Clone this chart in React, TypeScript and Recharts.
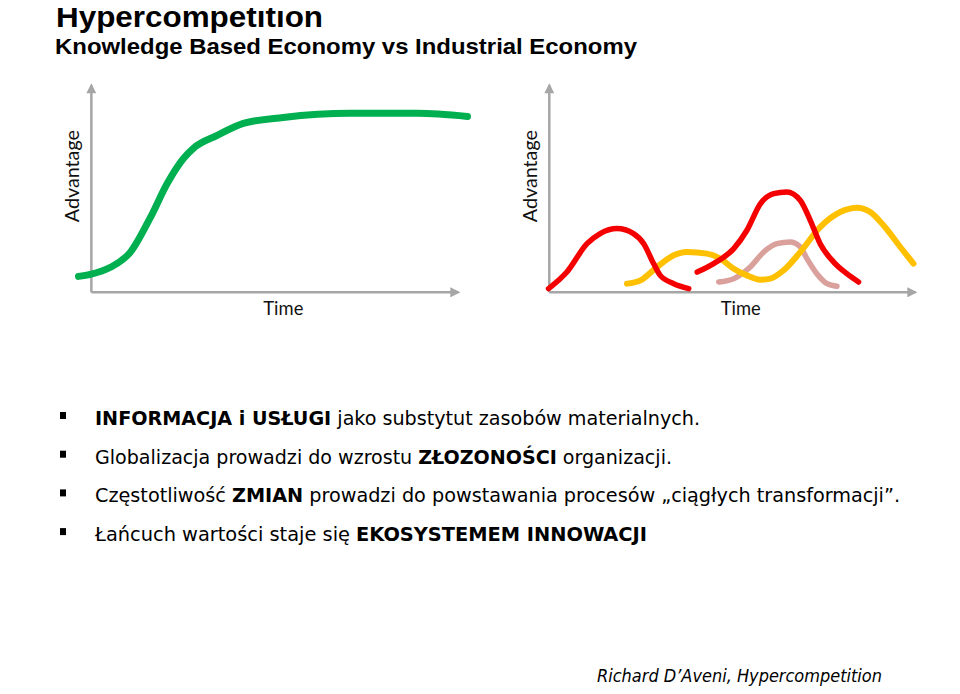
import { LineChart, Line, XAxis, YAxis, ReferenceLine } from 'recharts';

// Slide: Hypercompetition — one long S-curve of advantage (left) vs a run of
// short-lived advantage waves (right). Units: time 0..100 along the x arrow,
// advantage 0..100 up the y arrow.

const AXIS = '#a6a6a6';
const GREEN = '#00b050';
const RED = '#f40000';
const YELLOW = '#ffc000';
const PINK = '#d9a09c';

const X_DOMAIN: [number, number] = [-5, 105];
const Y_DOMAIN: [number, number] = [-5, 105];

// left panel — knowledge based economy
const sTime = [-3.5, -0.3, 5.2, 10.6, 16.1, 20.7, 25.1, 27.8, 34.3, 41.4, 52.3, 70.6, 88.8, 102.5];
const sAdvantage = [7.7, 8.7, 12.1, 19.3, 36.2, 52.7, 64.7, 69.6, 75.8, 81.6, 84.5, 86.5, 86.5, 85.0];

// right panel — industrial economy waves
const red1Time = [-0.2, 4.8, 10.3, 13.9, 18.5, 23.0, 25.8, 28.5, 30.3, 34.0, 38.1];
const red1Advantage = [1.8, 9.8, 23.5, 28.4, 30.8, 28.4, 23.5, 13.9, 8.2, 4.2, 1.8];

const yellowTime = [21.2, 24.9, 29.4, 34.0, 37.6, 43.1, 46.7, 50.4, 54.0, 57.7, 60.4, 64.0, 68.6, 74.0, 79.5, 84.1, 87.7, 91.3, 95.9, 99.5];
const yellowAdvantage = [4.2, 5.8, 12.2, 17.9, 19.5, 18.7, 16.3, 11.4, 8.2, 6.1, 6.6, 10.6, 19.5, 31.5, 38.8, 40.9, 38.8, 32.4, 21.9, 13.9];

const red2Time = [40.4, 44.9, 50.4, 54.0, 57.7, 61.3, 64.9, 68.6, 71.3, 74.0, 77.7, 81.3, 84.5];
const red2Advantage = [9.8, 13.9, 21.1, 30.0, 42.9, 47.7, 48.5, 44.4, 34.8, 23.5, 14.6, 9.0, 5.0];

const pinkTime = [46.3, 50.4, 54.9, 58.6, 62.2, 65.8, 68.6, 70.4, 73.1, 75.9, 78.6];
const pinkAdvantage = [5.0, 6.6, 12.2, 19.5, 23.5, 24.3, 21.9, 16.3, 9.0, 4.2, 2.9];

const BULLETS = [
  [{ text: 'INFORMACJA i USŁUGI', bold: true }, { text: ' jako substytut zasobów materialnych.' }],
  [{ text: 'Globalizacja prowadzi do wzrostu ' }, { text: 'ZŁOZONOŚCI', bold: true }, { text: ' organizacji.' }],
  [{ text: 'Częstotliwość ' }, { text: 'ZMIAN', bold: true }, { text: ' prowadzi do powstawania procesów „ciągłych transformacji”.' }],
  [{ text: 'Łańcuch wartości staje się ' }, { text: 'EKOSYSTEMEM INNOWACJI', bold: true }],
];
const BULLET_WIDTHS = [605, 577, 805, 552];

const zip = (t: number[], a: number[]) => t.map((v, i) => ({ t: v, a: a[i] }));

interface Series {
  name: string;
  color: string;
  width: number;
  data: { t: number; a: number }[];
}

const leftSeries: Series[] = [{ name: 's-curve', color: GREEN, width: 7, data: zip(sTime, sAdvantage) }];
const rightSeries: Series[] = [
  { name: 'pink', color: PINK, width: 5.5, data: zip(pinkTime, pinkAdvantage) },
  { name: 'yellow', color: YELLOW, width: 6, data: zip(yellowTime, yellowAdvantage) },
  { name: 'red1', color: RED, width: 5.5, data: zip(red1Time, red1Advantage) },
  { name: 'red2', color: RED, width: 5.5, data: zip(red2Time, red2Advantage) },
];

const LABEL_FONT = 'Lato, "Open Sans", sans-serif';
const PAD = 40;

function timeLabel(props: any) {
  const vb = props.viewBox;
  return (
    <text x={vb.x + vb.width / 2 + 8.5} y={vb.y + 15} textAnchor="middle" dominantBaseline="central"
      fontFamily={LABEL_FONT} fontSize={19} fill="#111" textLength={40} lengthAdjust="spacingAndGlyphs">
      Time
    </text>
  );
}

function advantageLabel(props: any) {
  const vb = props.viewBox;
  const x = vb.x - 19.5;
  const y = vb.y + vb.height / 2 - 12.7;
  return (
    <text x={x} y={y} transform={`rotate(-90 ${x} ${y})`} textAnchor="middle" dominantBaseline="central"
      fontFamily={LABEL_FONT} fontSize={19} fill="#111" textLength={92} lengthAdjust="spacingAndGlyphs">
      Advantage
    </text>
  );
}

function Panel({ id, originX, originY, xUnit, yUnit, series }: {
  id: string; originX: number; originY: number; xUnit: number; yUnit: number; series: Series[];
}) {
  const plotW = (X_DOMAIN[1] - X_DOMAIN[0]) * xUnit;
  const plotH = (Y_DOMAIN[1] - Y_DOMAIN[0]) * yUnit;
  const plotLeft = originX + X_DOMAIN[0] * xUnit;
  const plotTop = originY - Y_DOMAIN[1] * yUnit;
  const arrow = `url(#arrow-${id})`;
  return (
    <div style={{ position: 'absolute', left: plotLeft - PAD, top: plotTop - PAD }}>
      <LineChart width={plotW + 2 * PAD} height={plotH + 2 * PAD}
        margin={{ top: PAD, right: PAD, bottom: PAD, left: PAD }}>
        <defs>
          <marker id={`arrow-${id}`} viewBox="0 0 10 10" refX="8" refY="5" markerWidth="11" markerHeight="10"
            markerUnits="userSpaceOnUse" orient="auto">
            <path d="M0,0 L10,5 L0,10 z" fill={AXIS} />
          </marker>
        </defs>
        <XAxis type="number" dataKey="t" domain={X_DOMAIN} allowDataOverflow hide />
        <YAxis type="number" dataKey="a" domain={Y_DOMAIN} allowDataOverflow hide />
        <ReferenceLine segment={[{ x: 0, y: 0 }, { x: 100, y: 0 }]} stroke={AXIS} strokeWidth={2.5}
          markerEnd={arrow} label={timeLabel} />
        <ReferenceLine segment={[{ x: 0, y: 0 }, { x: 0, y: 100 }]} stroke={AXIS} strokeWidth={2.5}
          markerEnd={arrow} label={advantageLabel} />
        {series.map((s) => (
          <Line key={s.name} data={s.data} dataKey="a" type="monotone" stroke={s.color} strokeWidth={s.width}
            strokeLinecap="round" strokeLinejoin="round" dot={false} activeDot={false} isAnimationActive={false} />
        ))}
      </LineChart>
    </div>
  );
}

const BODY_FONT = 'Tahoma, "DejaVu Sans Condensed", "DejaVu Sans", sans-serif';

export default function App() {
  return (
    <div style={{ position: 'relative', width: 960, height: 694, margin: -8, background: '#fff', overflow: 'hidden' }}>
      <svg width={960} height={694} style={{ position: 'absolute', left: 0, top: 0 }}>
        <text x={56} y={26.5} fontFamily='"Liberation Sans", Arial, sans-serif' fontWeight="bold" fontSize={29.5}
          fill="#000" textLength={267} lengthAdjust="spacingAndGlyphs">Hypercompetition</text>
        <text x={55} y={54} fontFamily='"Liberation Sans", Arial, sans-serif' fontWeight="bold" fontSize={22.5}
          fill="#000" textLength={582} lengthAdjust="spacingAndGlyphs">Knowledge Based Economy vs Industrial Economy</text>

        {BULLETS.map((parts, i) => {
          const base = 425 + i * 38.7;
          return (
            <g key={i}>
              <rect x={60} y={base - 13} width={6} height={7} fill="#000" />
              <text x={95} y={base} fontFamily={BODY_FONT} fontSize={20} fill="#000" style={{ whiteSpace: 'pre' }}
                textLength={BULLET_WIDTHS[i]} lengthAdjust="spacingAndGlyphs">
                {parts.map((p, j) => (
                  <tspan key={j} fontWeight={p.bold ? 'bold' : 'normal'}>{p.text}</tspan>
                ))}
              </text>
            </g>
          );
        })}

        <text x={597} y={682} fontFamily={BODY_FONT} fontStyle="italic" fontSize={18} fill="#000"
          textLength={285} lengthAdjust="spacingAndGlyphs">Richard D’Aveni, Hypercompetition</text>
        <line x1={70} y1={691} x2={905} y2={691} stroke="#f0f0f0" strokeWidth={2} />
      </svg>

      <Panel id="left" originX={91} originY={292} xUnit={3.67} yUnit={2.07} series={leftSeries} />
      <Panel id="right" originX={549} originY={292} xUnit={3.66} yUnit={2.07} series={rightSeries} />
    </div>
  );
}
